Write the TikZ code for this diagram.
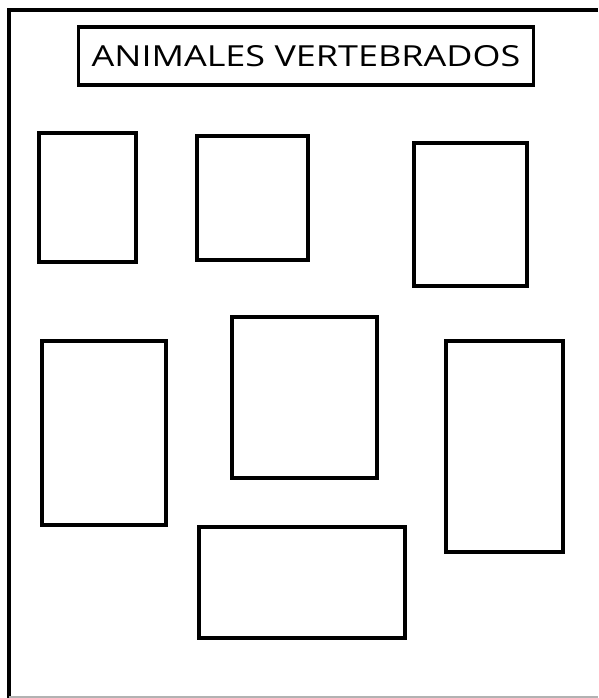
\documentclass[tikz,border=0pt]{standalone}
\usepackage{fontspec}
\setmainfont{Open Sans}
\usetikzlibrary{positioning}
\tikzset{
  caja/.style={draw,line width=3.4pt,inner sep=0pt},
  titulo/.style={draw,line width=3.4pt,inner sep=0pt,minimum width=455pt,minimum height=58pt,font=\fontsize{29}{32}\selectfont}
}
\begin{document}
\begin{tikzpicture}[x=1pt,y=-1pt]
  \useasboundingbox (0,0) rectangle (598,698);
  % marco exterior
  \coordinate (mA) at (9,698);
  \coordinate (mB) at (9,10);
  \coordinate (mC) at (598,10);
  \draw[line width=3.6pt] (mA) -- (mB) -- (mC);
  \draw[line width=1.5pt,gray!60] (9,697) -- (598,697);
  % titulo
  \node[titulo] (tit) at (306,56) {\scalebox{1.24}[1]{ANIMALES VERTEBRADOS}};
  % casillas
  \node[caja,minimum width=97pt,minimum height=129pt] (c1) at (87.5,197.5) {};
  \node[caja,minimum width=111pt,minimum height=124pt] (c2) at (252.5,198) {};
  \node[caja,minimum width=113pt,minimum height=143pt] (c3) at (470.5,214.5) {};
  \node[caja,minimum width=124pt,minimum height=184pt] (c4) at (104,433) {};
  \node[caja,minimum width=145pt,minimum height=161pt] (c5) at (304.5,397.5) {};
  \node[caja,minimum width=117pt,minimum height=211pt] (c6) at (504.5,446.5) {};
  \node[caja,minimum width=206pt,minimum height=111pt] (c7) at (302,582.5) {};
\end{tikzpicture}
\end{document}
